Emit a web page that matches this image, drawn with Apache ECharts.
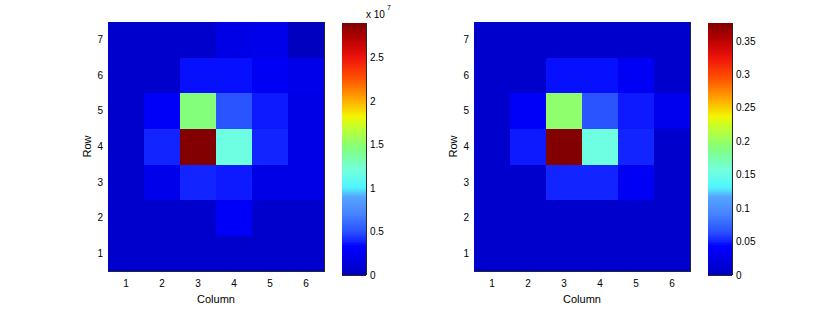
<!DOCTYPE html>
<html>
<head>
<meta charset="utf-8">
<script src="https://cdn.jsdelivr.net/npm/echarts@6/dist/echarts.min.js"></script>
<style>
html,body{margin:0;padding:0;background:#fff}
#c{width:830px;height:309px}
#c svg path{shape-rendering:crispEdges}
</style>
</head>
<body>
<div id="c"></div>
<script>
// ---- data ----
const columns = ['1', '2', '3', '4', '5', '6'];
const rows = ['1', '2', '3', '4', '5', '6', '7'];
// each array = one row (row 1 at the bottom), values for columns 1..6
const leftRow1 = [5.8e5, 5.8e5, 5.8e5, 5.8e5, 5.8e5, 5.8e5];
const leftRow2 = [5.8e5, 5.8e5, 5.8e5, 2.8e6, 5.8e5, 5.8e5];
const leftRow3 = [5.8e5, 2.2e6, 4.0e6, 3.7e6, 2.0e6, 1.9e6];
const leftRow4 = [5.8e5, 3.9e6, 2.9e7, 1.19e7, 4.0e6, 1.9e6];
const leftRow5 = [5.8e5, 2.8e6, 1.45e7, 5.1e6, 3.7e6, 1.9e6];
const leftRow6 = [5.8e5, 5.8e5, 3.6e6, 3.6e6, 2.5e6, 2.2e6];
const leftRow7 = [5.8e5, 5.8e5, 5.8e5, 2.0e6, 2.2e6, 2.0e5];
const rightRow1 = [0.0075, 0.0075, 0.0075, 0.0075, 0.0075, 0.0075];
const rightRow2 = [0.0075, 0.0075, 0.0075, 0.0075, 0.0075, 0.0075];
const rightRow3 = [0.0075, 0.0075, 0.051, 0.051, 0.035, 0.0075];
const rightRow4 = [0.0075, 0.049, 0.377, 0.155, 0.051, 0.0075];
const rightRow5 = [0.0075, 0.036, 0.196, 0.066, 0.048, 0.030];
const rightRow6 = [0.0075, 0.0075, 0.047, 0.047, 0.035, 0.0075];
const rightRow7 = [0.0075, 0.0075, 0.0075, 0.0075, 0.0075, 0.0075];
const leftMax = 2.9e7;
const rightMax = 0.377;
const leftTickStep = 5e6;
const rightTickStep = 0.05;
const leftExponentLabel = 'x 10';
const leftExponent = '7';

const leftRows = [leftRow1, leftRow2, leftRow3, leftRow4, leftRow5, leftRow6, leftRow7];
const rightRows = [rightRow1, rightRow2, rightRow3, rightRow4, rightRow5, rightRow6, rightRow7];

// ---- colormap (jet-like, as rendered in the reference) ----
const cmapStops = [
  [0.000, [0, 0, 190]],
  [0.020, [0, 0, 205]],
  [0.110, [0, 0, 255]],
  [0.170, [40, 80, 255]],
  [0.240, [70, 130, 255]],
  [0.310, [85, 165, 255]],
  [0.345, [80, 245, 255]],
  [0.420, [115, 255, 220]],
  [0.500, [128, 255, 128]],
  [0.580, [190, 255, 50]],
  [0.630, [245, 245, 0]],
  [0.700, [255, 165, 0]],
  [0.780, [255, 80, 0]],
  [0.860, [240, 20, 10]],
  [0.940, [180, 0, 0]],
  [1.000, [128, 0, 0]]
];
const N = 128;
function sample(t) {
  for (let i = 1; i < cmapStops.length; i++) {
    const [t1, c1] = cmapStops[i];
    const [t0, c0] = cmapStops[i - 1];
    if (t <= t1) {
      const f = (t - t0) / (t1 - t0);
      return 'rgb(' + c0.map((v, k) => Math.round(v + (c1[k] - v) * f)).join(',') + ')';
    }
  }
  return 'rgb(128,0,0)';
}
const CMAP = Array.from({length: N}, (_, i) => sample((i + 0.5) / N));

function pieces(max) {
  return CMAP.map((c, i) => i < N - 1
    ? {gte: i * max / N, lt: (i + 1) * max / N, color: c}
    : {gte: i * max / N, lte: max * 1.0001, color: c});
}
function cells(rowsArr) {
  const out = [];
  rowsArr.forEach((r, yi) => r.forEach((v, xi) => out.push([xi, yi, v])));
  return out;
}
function gradient() {
  const stops = [];
  CMAP.forEach((c, i) => {
    stops.push({offset: i / N, color: c});
    stops.push({offset: (i + 1) / N, color: c});
  });
  return {type: 'linear', x: 0, y: 1, x2: 0, y2: 0, colorStops: stops};
}

const FONT = "'Liberation Sans', Arial, sans-serif";
const LINE = '#262626';
const TXT = '#000';

function heatAxes(gi) {
  const tick = {show: true, inside: true, alignWithLabel: true, length: 3, lineStyle: {color: LINE}};
  const line = {show: true, lineStyle: {color: LINE, width: 1}};
  const x = [
    {type: 'category', gridIndex: gi, data: columns, position: 'bottom',
     axisLine: line, axisTick: tick,
     axisLabel: {color: TXT, fontSize: 10, fontFamily: FONT, margin: 7},
     splitLine: {show: false},
     name: 'Column', nameLocation: 'middle', nameGap: 19,
     nameTextStyle: {color: TXT, fontSize: 11, fontFamily: FONT}},
    {type: 'category', gridIndex: gi, data: columns, position: 'top',
     axisLine: line, axisTick: tick, axisLabel: {show: false}, splitLine: {show: false}}
  ];
  const y = [
    {type: 'category', gridIndex: gi, data: rows, position: 'left',
     axisLine: line, axisTick: tick,
     axisLabel: {color: TXT, fontSize: 10, fontFamily: FONT, margin: 5},
     splitLine: {show: false},
     name: 'Row', nameLocation: 'middle', nameGap: 16, nameRotate: 90,
     nameTextStyle: {color: TXT, fontSize: 11, fontFamily: FONT}},
    {type: 'category', gridIndex: gi, data: rows, position: 'right',
     axisLine: line, axisTick: tick, axisLabel: {show: false}, splitLine: {show: false}}
  ];
  return {x, y};
}
function barAxes(gi, max, step, fmt) {
  const x = [
    {type: 'category', gridIndex: gi, data: [''], position: 'bottom',
     axisLine: {show: true, lineStyle: {color: LINE}}, axisTick: {show: false}, axisLabel: {show: false}},
    {type: 'category', gridIndex: gi, data: [''], position: 'top',
     axisLine: {show: true, lineStyle: {color: LINE}}, axisTick: {show: false}, axisLabel: {show: false}}
  ];
  const y = [
    {type: 'value', gridIndex: gi, min: 0, max: max, interval: step, position: 'right',
     axisLine: {show: true, lineStyle: {color: LINE}},
     axisTick: {show: true, inside: true, length: 3, lineStyle: {color: LINE}},
     axisLabel: {color: TXT, fontSize: 10, fontFamily: FONT, margin: 4, showMaxLabel: false, formatter: fmt},
     splitLine: {show: false}},
    {type: 'value', gridIndex: gi, min: 0, max: max, interval: step, position: 'left',
     axisLine: {show: true, lineStyle: {color: LINE}},
     axisTick: {show: true, inside: true, length: 3, lineStyle: {color: LINE}},
     axisLabel: {show: false}, splitLine: {show: false}}
  ];
  return {x, y};
}

const a0 = heatAxes(0);
const a1 = barAxes(1, leftMax, leftTickStep, v => String(+(v / 1e7).toFixed(2)));
const a2 = heatAxes(2);
const a3 = barAxes(3, rightMax, rightTickStep, v => String(+v.toFixed(2)));

const option = {
  animation: false,
  backgroundColor: '#fff',
  grid: [
    {left: 108, top: 22, width: 216, height: 252},
    {left: 342, top: 23, width: 24, height: 252},
    {left: 474, top: 22, width: 216, height: 252},
    {left: 708, top: 23, width: 24, height: 252}
  ],
  xAxis: [...a0.x, ...a1.x, ...a2.x, ...a3.x],
  yAxis: [...a0.y, ...a1.y, ...a2.y, ...a3.y],
  visualMap: [
    {type: 'piecewise', show: false, seriesIndex: 0, pieces: pieces(leftMax)},
    {type: 'piecewise', show: false, seriesIndex: 2, pieces: pieces(rightMax)}
  ],
  graphic: [
    {type: 'text', left: 366, top: 9, style: {text: leftExponentLabel, fontSize: 10, fontFamily: FONT, fill: TXT}},
    {type: 'text', left: 387, top: 4, style: {text: leftExponent, fontSize: 7, fontFamily: FONT, fill: TXT}}
  ],
  series: [
    {type: 'heatmap', xAxisIndex: 0, yAxisIndex: 0, data: cells(leftRows), itemStyle: {borderWidth: 0}},
    {type: 'bar', xAxisIndex: 2, yAxisIndex: 2, data: [leftMax], barWidth: '100%',
     itemStyle: {color: gradient()}, silent: true},
    {type: 'heatmap', xAxisIndex: 4, yAxisIndex: 4, data: cells(rightRows), itemStyle: {borderWidth: 0}},
    {type: 'bar', xAxisIndex: 6, yAxisIndex: 6, data: [rightMax], barWidth: '100%',
     itemStyle: {color: gradient()}, silent: true}
  ]
};
const chart = echarts.init(document.getElementById('c'), null, {renderer: 'svg'});
chart.setOption(option);
</script>
</body>
</html>
